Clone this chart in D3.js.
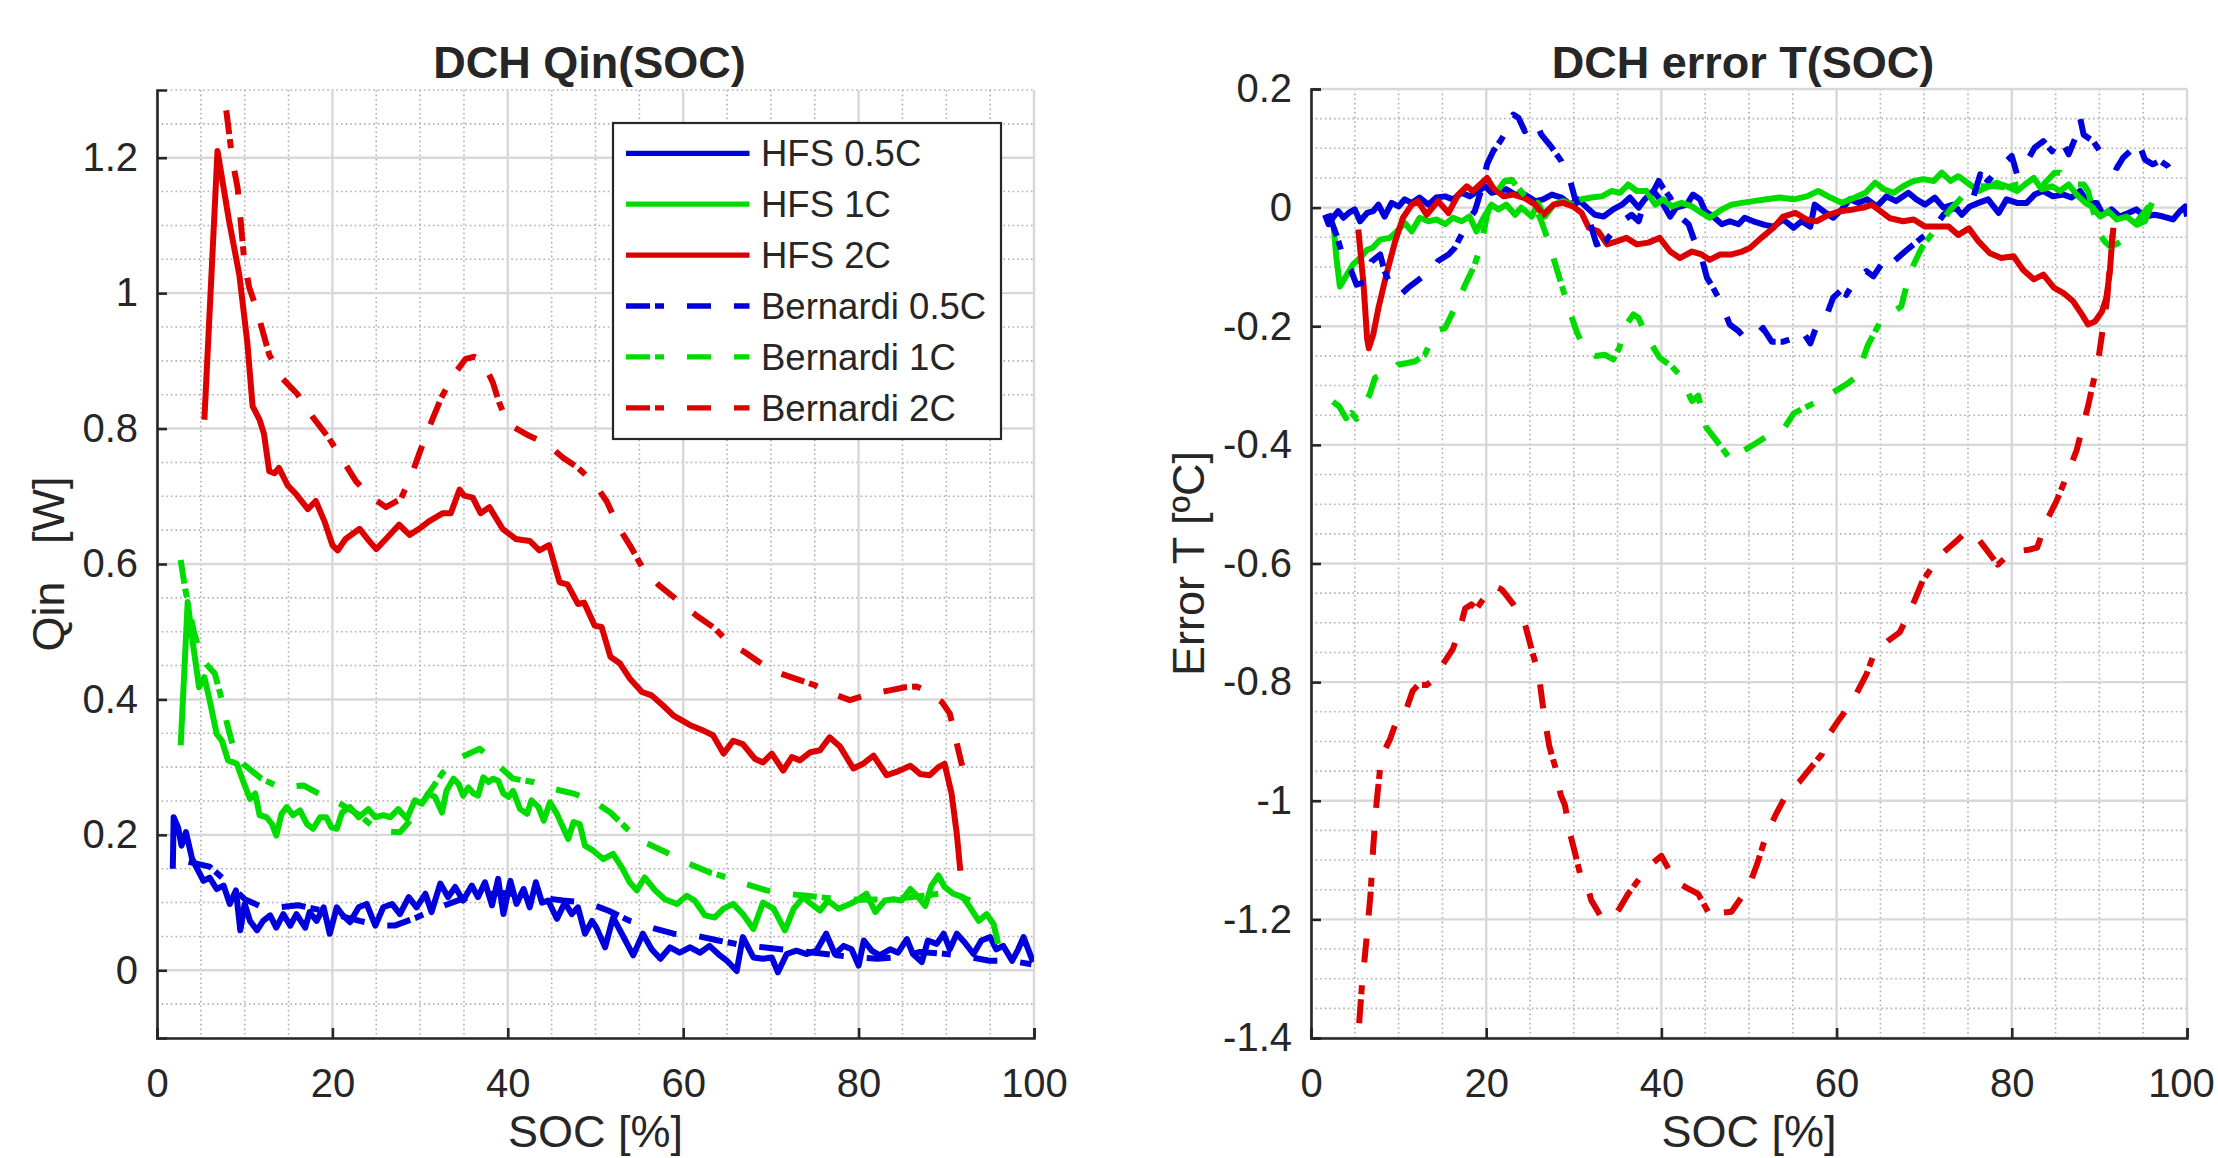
<!DOCTYPE html>
<html>
<head>
<meta charset="utf-8">
<script src="https://cdn.jsdelivr.net/npm/d3@7"></script>
<style>
body { margin: 0; background: #fff; }
svg text { font-family: "Liberation Sans", Arial, Helvetica, sans-serif; fill: #262626; }
</style>
</head>
<body>
<div id="chart"></div>
<script>
// ---- left panel: Qin [W] vs SOC [%]
var qinHfs05 = [[1.8,0.150],[1.9,0.226],[2.4,0.211],[2.8,0.184],[3.3,0.204],[4.0,0.165],[4.5,0.152],[5.3,0.132],[6.0,0.137],[6.8,0.120],[7.6,0.125],[8.3,0.098],[9.0,0.118],[9.5,0.059],[10.0,0.098],[10.6,0.073],[11.4,0.059],[12.1,0.073],[12.9,0.081],[13.6,0.063],[14.4,0.083],[15.2,0.066],[15.9,0.083],[16.9,0.063],[17.4,0.086],[18.2,0.073],[19.0,0.093],[19.7,0.054],[20.5,0.093],[21.2,0.081],[22.0,0.071],[23.0,0.093],[23.9,0.098],[24.9,0.066],[25.8,0.093],[26.8,0.098],[27.7,0.083],[28.7,0.108],[29.6,0.093],[30.6,0.113],[31.3,0.086],[32.3,0.128],[33.2,0.108],[34.0,0.123],[34.9,0.103],[35.9,0.125],[36.6,0.108],[37.4,0.130],[38.2,0.096],[38.9,0.135],[39.5,0.083],[40.3,0.132],[41.0,0.098],[41.8,0.120],[42.5,0.093],[43.2,0.130],[43.9,0.100],[44.6,0.103],[45.6,0.076],[46.5,0.100],[47.3,0.083],[48.0,0.093],[48.8,0.054],[49.6,0.073],[50.1,0.063],[51.1,0.034],[52.0,0.078],[53.0,0.054],[54.3,0.022],[55.4,0.054],[56.4,0.031],[57.4,0.017],[58.5,0.034],[59.6,0.026],[60.8,0.034],[61.9,0.026],[63.0,0.036],[64.0,0.024],[65.0,0.014],[66.1,-0.001],[66.8,0.049],[68.0,0.019],[69.1,0.017],[70.1,0.019],[70.8,-0.003],[71.8,0.024],[72.9,0.029],[74.1,0.024],[75.2,0.029],[76.3,0.054],[77.3,0.024],[78.3,0.036],[79.2,0.031],[80.0,0.007],[80.6,0.044],[81.5,0.029],[82.4,0.022],[83.6,0.031],[84.5,0.026],[85.5,0.046],[86.2,0.024],[87.2,0.012],[87.9,0.044],[88.9,0.039],[89.7,0.054],[90.4,0.031],[91.2,0.054],[92.1,0.041],[93.1,0.024],[94.0,0.044],[95.0,0.049],[95.7,0.031],[96.5,0.036],[97.5,0.014],[98.2,0.031],[98.8,0.049],[99.4,0.029],[99.9,0.012]];
var qinHfs1 = [[2.7,0.332],[3.5,0.544],[4.1,0.482],[4.8,0.418],[5.4,0.433],[6.0,0.399],[6.8,0.349],[7.4,0.339],[8.1,0.31],[9.1,0.305],[9.8,0.28],[10.6,0.253],[11.2,0.261],[11.7,0.229],[12.5,0.226],[13.1,0.216],[13.6,0.199],[14.2,0.231],[14.8,0.241],[15.5,0.229],[16.3,0.236],[17.1,0.216],[17.8,0.209],[18.6,0.226],[19.3,0.226],[19.9,0.211],[20.5,0.209],[21.1,0.233],[22.0,0.241],[23.0,0.226],[24.1,0.238],[24.9,0.226],[25.8,0.229],[26.6,0.226],[27.5,0.238],[28.5,0.224],[29.4,0.251],[30.2,0.246],[30.9,0.261],[31.7,0.256],[32.5,0.233],[33.0,0.265],[33.8,0.283],[34.4,0.275],[34.9,0.258],[35.5,0.270],[36.1,0.261],[36.6,0.258],[37.2,0.285],[37.8,0.278],[38.3,0.283],[38.9,0.280],[39.5,0.261],[40.1,0.256],[40.6,0.265],[41.4,0.238],[42.2,0.231],[42.7,0.251],[43.5,0.241],[44.1,0.221],[44.8,0.248],[45.6,0.231],[46.3,0.211],[46.9,0.194],[47.5,0.219],[48.2,0.216],[48.8,0.184],[49.7,0.177],[50.9,0.164],[52.0,0.172],[53.0,0.152],[53.9,0.130],[54.7,0.118],[55.6,0.137],[56.8,0.118],[57.9,0.105],[59.3,0.098],[60.4,0.110],[61.3,0.103],[62.5,0.081],[63.6,0.078],[64.6,0.091],[65.7,0.098],[66.8,0.083],[68.0,0.061],[69.1,0.100],[70.3,0.091],[71.6,0.059],[72.6,0.091],[73.7,0.108],[74.6,0.098],[75.6,0.088],[76.5,0.103],[77.7,0.091],[79.0,0.098],[79.8,0.103],[80.9,0.113],[81.9,0.086],[83.0,0.103],[84.0,0.105],[84.9,0.103],[85.9,0.120],[86.8,0.108],[87.6,0.095],[88.3,0.125],[89.1,0.140],[89.8,0.123],[90.8,0.113],[91.9,0.108],[92.7,0.093],[93.7,0.073],[94.6,0.083],[95.4,0.068],[95.9,0.039]];
var qinHfs2 = [[5.4,0.813],[6.9,1.21],[8.2,1.108],[9.4,1.026],[10.3,0.927],[10.9,0.833],[11.7,0.813],[12.2,0.792],[12.8,0.737],[13.4,0.734],[13.9,0.742],[14.9,0.716],[15.8,0.704],[17.2,0.681],[18.1,0.693],[19.1,0.663],[20.0,0.628],[20.6,0.62],[21.5,0.637],[23.1,0.652],[24.0,0.637],[25.0,0.622],[26.1,0.637],[27.6,0.658],[28.8,0.643],[29.9,0.652],[31.0,0.663],[32.6,0.675],[33.5,0.675],[34.5,0.71],[35.0,0.701],[36.0,0.698],[36.9,0.675],[37.9,0.684],[39.4,0.652],[40.9,0.637],[42.5,0.634],[43.6,0.62],[44.7,0.628],[45.9,0.573],[46.8,0.57],[48.0,0.541],[48.7,0.543],[49.9,0.509],[50.7,0.507],[51.7,0.463],[52.8,0.453],[53.9,0.431],[55.3,0.411],[56.4,0.406],[57.7,0.391],[58.9,0.376],[60.8,0.362],[62.3,0.354],[63.4,0.347],[64.6,0.320],[65.7,0.339],[66.8,0.334],[68.2,0.312],[69.1,0.307],[70.1,0.320],[71.4,0.295],[72.4,0.315],[73.3,0.310],[74.5,0.322],[75.6,0.325],[76.7,0.344],[77.9,0.330],[79.4,0.298],[80.5,0.305],[81.7,0.317],[83.2,0.288],[84.3,0.293],[85.9,0.302],[87.0,0.290],[88.1,0.288],[89.1,0.300],[89.8,0.305],[90.6,0.261],[91.2,0.201],[91.6,0.147]];
var qinBern05 = [[3.6,0.160],[6.0,0.153],[8.0,0.13],[10.0,0.105],[11.7,0.095],[13.8,0.093],[16.1,0.096],[18.9,0.088],[21.0,0.08],[23.1,0.073],[24.5,0.069],[26.0,0.066],[27.1,0.066],[29.6,0.078],[32.0,0.092],[34.5,0.104],[37.0,0.112],[39.5,0.114],[42.0,0.111],[44.5,0.106],[46.3,0.103],[49.0,0.100],[51.5,0.088],[53.9,0.073],[56.4,0.063],[58.9,0.054],[61.5,0.051],[64.0,0.044],[66.8,0.037],[69.1,0.034],[72.0,0.03],[75.0,0.026],[78.9,0.02],[82.1,0.017],[85.0,0.02],[87.0,0.027],[89.3,0.025],[92.5,0.02],[94.9,0.014],[97.3,0.014],[99.7,0.009]];
var qinBern1 = [[2.7,0.606],[3.2,0.564],[4.2,0.5],[5.1,0.460],[6.6,0.438],[7.4,0.399],[7.9,0.369],[8.7,0.329],[9.8,0.305],[11.9,0.283],[14.0,0.270],[16.7,0.273],[19.0,0.257],[21.0,0.245],[23.0,0.23],[25.3,0.205],[27.7,0.204],[29.5,0.23],[31.0,0.262],[32.6,0.292],[34.7,0.315],[36.8,0.327],[38.7,0.305],[40.6,0.283],[42.9,0.278],[45.2,0.268],[47.5,0.261],[49.7,0.25],[51.7,0.233],[53.6,0.209],[55.6,0.189],[58.1,0.174],[60.4,0.159],[62.9,0.145],[65.0,0.137],[67.0,0.128],[69.5,0.118],[71.8,0.113],[74.1,0.110],[77.0,0.106],[80.0,0.104],[83.0,0.105],[86.0,0.108],[88.5,0.112],[90.4,0.115],[92.7,0.103]];
var qinBern2 = [[7.9,1.27],[8.6,1.196],[9.2,1.155],[9.9,1.055],[10.5,1.009],[11.3,0.979],[12.8,0.909],[14.3,0.874],[16.0,0.851],[17.7,0.818],[19.6,0.786],[21.0,0.757],[22.7,0.722],[24.2,0.701],[26.1,0.684],[27.8,0.696],[29.1,0.734],[29.9,0.763],[31.0,0.801],[32.4,0.845],[33.7,0.877],[35.2,0.903],[36.2,0.906],[37.1,0.90],[38.3,0.868],[39.0,0.839],[40.0,0.807],[42.5,0.789],[44.4,0.778],[46.3,0.757],[48.0,0.742],[49.9,0.719],[51.3,0.692],[52.6,0.655],[53.9,0.628],[55.3,0.596],[57.2,0.569],[59.4,0.546],[61.5,0.524],[63.6,0.505],[65.1,0.485],[67.0,0.470],[68.9,0.453],[70.7,0.440],[72.7,0.431],[75.0,0.421],[77.1,0.408],[79.0,0.399],[81.3,0.408],[83.4,0.413],[85.3,0.418],[86.6,0.419],[87.7,0.413],[89.5,0.396],[90.4,0.379],[91.2,0.335],[91.8,0.302]];

// ---- right panel: Error T [ºC] vs SOC [%]
var errHfs05 = [[1.6,-0.012],[2.0,-0.028],[2.6,-0.015],[3.1,-0.006],[3.7,-0.017],[4.3,-0.009],[5.0,-0.003],[5.6,-0.023],[6.4,-0.009],[7.1,-0.006],[7.7,0.005],[8.4,-0.015],[9.2,0.008],[10.0,0.002],[10.7,0.014],[11.5,0.008],[12.4,0.017],[13.4,0.005],[14.3,0.017],[15.3,0.019],[16.2,0.014],[17.2,0.025],[18.1,0.019],[19.1,0.028],[19.9,0.036],[20.6,0.025],[21.4,0.028],[22.3,0.031],[23.3,0.022],[24.4,0.022],[25.6,0.011],[26.5,0.014],[27.5,0.022],[28.6,0.017],[29.6,0.005],[30.5,0.014],[31.5,0.0],[32.4,-0.012],[33.4,-0.015],[34.5,-0.003],[35.5,0.005],[36.4,0.017],[37.4,0.0],[38.1,0.014],[39.1,0.028],[40.0,0.011],[41.0,-0.015],[41.7,0.0],[42.9,0.005],[43.6,0.022],[44.4,0.014],[45.0,-0.006],[45.9,-0.015],[46.9,-0.028],[47.8,-0.023],[48.8,-0.028],[49.5,-0.017],[50.5,-0.023],[51.8,-0.029],[52.8,-0.032],[53.9,-0.020],[55.1,-0.034],[56.0,-0.023],[57.0,-0.032],[57.5,0.005],[58.5,-0.006],[59.6,-0.017],[60.6,-0.003],[61.5,0.014],[62.5,0.008],[63.5,0.014],[64.6,0.002],[65.7,0.019],[66.8,0.011],[68.2,0.025],[69.1,0.014],[70.1,0.005],[71.2,0.017],[72.2,0.0],[73.3,0.005],[74.3,-0.012],[75.2,0.002],[76.2,0.008],[77.3,0.014],[78.5,-0.009],[79.4,0.014],[80.6,0.008],[81.7,0.008],[82.6,0.022],[83.6,0.028],[84.7,0.019],[85.9,0.022],[86.8,0.017],[87.8,0.028],[88.7,0.008],[89.7,0.008],[90.4,-0.012],[91.4,-0.003],[92.3,-0.015],[93.3,-0.009],[94.2,-0.003],[95.2,-0.015],[96.3,-0.012],[97.3,-0.015],[98.4,-0.020],[99.2,-0.006],[99.8,0.002],[100,-0.015]];
var errHfs1 = [[2.6,-0.034],[2.9,-0.085],[3.3,-0.133],[4.1,-0.113],[4.8,-0.096],[5.6,-0.085],[6.4,-0.071],[7.0,-0.068],[7.9,-0.054],[9.0,-0.051],[9.8,-0.040],[10.7,-0.026],[11.5,-0.040],[12.4,-0.017],[13.4,-0.023],[14.3,-0.020],[15.3,-0.028],[16.2,-0.017],[17.2,-0.023],[18.1,-0.015],[18.9,-0.040],[19.7,-0.017],[20.6,0.005],[21.4,-0.003],[22.3,0.005],[23.3,-0.012],[24.0,0.0],[25.2,-0.015],[25.9,0.008],[26.7,-0.015],[27.7,0.005],[28.8,0.011],[29.8,0.005],[30.9,0.014],[32.0,0.017],[33.2,0.019],[34.3,0.028],[35.3,0.025],[36.2,0.039],[37.2,0.028],[38.3,0.028],[39.3,0.005],[40.2,0.014],[41.2,0.002],[42.3,0.008],[43.5,0.002],[44.6,-0.009],[45.5,-0.017],[46.9,-0.003],[48.0,0.005],[49.2,0.008],[50.5,0.011],[52.0,0.014],[53.5,0.017],[55.1,0.014],[56.6,0.019],[57.9,0.028],[59.3,0.017],[60.6,0.008],[62.1,0.017],[63.3,0.025],[64.4,0.042],[65.4,0.031],[66.5,0.025],[67.6,0.036],[68.8,0.045],[69.9,0.048],[71.1,0.045],[72.0,0.059],[73.0,0.045],[73.9,0.053],[75.2,0.039],[76.2,0.028],[77.1,0.034],[78.3,0.042],[79.4,0.036],[80.6,0.028],[81.5,0.039],[82.5,0.050],[83.4,0.031],[84.6,0.036],[85.5,0.028],[86.5,0.039],[87.4,0.022],[88.4,0.008],[89.1,0.002],[90.1,-0.015],[91.0,-0.006],[92.0,-0.020],[93.1,-0.015],[94.3,-0.029],[95.2,-0.023],[96.0,0.008]];
var errHfs2 = [[5.4,-0.037],[6.0,-0.13],[6.4,-0.22],[6.6,-0.237],[7.1,-0.214],[7.7,-0.169],[8.6,-0.113],[9.6,-0.057],[10.5,-0.017],[11.5,0.005],[12.2,0.011],[13.2,-0.012],[14.5,0.011],[15.7,-0.009],[16.8,0.022],[17.8,0.036],[18.5,0.028],[19.3,0.039],[20.1,0.050],[20.8,0.033],[22.0,0.019],[23.1,0.022],[24.4,0.016],[25.6,0.005],[26.5,-0.012],[27.7,0.005],[28.8,0.008],[29.9,0.002],[30.9,-0.009],[31.7,-0.034],[32.8,-0.040],[33.8,-0.062],[34.9,-0.057],[36.0,-0.051],[37.2,-0.062],[38.5,-0.059],[39.8,-0.051],[41.0,-0.074],[42.1,-0.085],[43.5,-0.074],[44.6,-0.079],[45.5,-0.088],[46.7,-0.079],[48.0,-0.079],[49.2,-0.074],[50.1,-0.068],[51.4,-0.051],[52.8,-0.034],[53.9,-0.015],[55.3,-0.009],[56.6,-0.020],[57.7,-0.023],[59.1,-0.012],[60.4,-0.006],[61.9,-0.003],[63.1,0.0],[64.0,0.005],[65.0,-0.006],[66.1,-0.018],[67.6,-0.023],[68.8,-0.020],[70.1,-0.032],[71.4,-0.032],[72.8,-0.032],[73.9,-0.046],[75.1,-0.035],[76.2,-0.057],[77.5,-0.077],[78.8,-0.085],[80.2,-0.082],[81.3,-0.105],[82.5,-0.121],[83.6,-0.113],[84.8,-0.135],[85.9,-0.144],[87.0,-0.158],[88.0,-0.180],[88.7,-0.197],[89.5,-0.192],[90.3,-0.175],[90.8,-0.152],[91.2,-0.107],[91.5,-0.045]];
var errBern05 = [[2.0,-0.01],[3.0,-0.05],[3.9,-0.096],[4.6,-0.107],[5.2,-0.13],[6.4,-0.124],[6.9,-0.091],[7.9,-0.079],[8.4,-0.107],[9.2,-0.135],[10.2,-0.147],[11.1,-0.135],[12.6,-0.118],[13.8,-0.107],[14.5,-0.090],[15.7,-0.079],[16.4,-0.068],[17.2,-0.045],[18.1,-0.017],[18.7,-0.006],[19.5,0.033],[20.1,0.073],[20.8,0.095],[21.6,0.112],[22.3,0.129],[23.1,0.157],[23.7,0.151],[24.4,0.129],[25.6,0.146],[26.3,0.123],[27.5,0.101],[28.6,0.078],[29.6,0.045],[30.1,0.017],[30.9,-0.006],[31.9,-0.028],[32.6,-0.062],[33.6,-0.057],[34.5,-0.040],[35.5,-0.023],[36.6,-0.012],[37.4,-0.023],[38.1,0.011],[39.1,0.028],[39.7,0.045],[40.2,0.033],[41.0,0.017],[41.9,-0.012],[43.1,-0.028],[43.8,-0.057],[44.6,-0.085],[45.2,-0.118],[45.9,-0.135],[46.9,-0.163],[47.8,-0.197],[48.8,-0.208],[49.5,-0.220],[50.5,-0.220],[51.6,-0.203],[52.6,-0.226],[53.9,-0.226],[55.1,-0.220],[56.0,-0.206],[57.0,-0.229],[57.9,-0.192],[58.9,-0.180],[59.6,-0.152],[60.4,-0.141],[61.1,-0.147],[62.1,-0.124],[63.4,-0.107],[64.2,-0.116],[65.1,-0.096],[65.7,-0.107],[66.5,-0.091],[67.8,-0.074],[68.8,-0.062],[69.7,-0.051],[70.7,-0.040],[71.4,-0.029],[72.2,-0.012],[73.3,-0.001],[74.5,-0.006],[75.6,0.017],[76.4,0.056],[77.3,0.045],[78.3,0.062],[79.4,0.079],[80.0,0.087],[80.6,0.056],[81.3,0.067],[82.6,0.101],[83.6,0.112],[84.6,0.095],[85.5,0.118],[86.5,0.090],[87.4,0.123],[87.8,0.151],[88.2,0.123],[89.3,0.112],[90.3,0.090],[91.2,0.073],[92.0,0.067],[92.7,0.084],[93.5,0.095],[94.4,0.112],[95.2,0.081],[96.1,0.073],[96.9,0.079],[97.8,0.070],[98.8,0.048],[99.4,0.05]];
var errBern1 = [[2.5,-0.327],[3.2,-0.335],[4.0,-0.355],[4.6,-0.346],[5.2,-0.356],[6.7,-0.315],[7.3,-0.287],[8.2,-0.28],[9.2,-0.276],[9.9,-0.265],[11.0,-0.262],[11.9,-0.259],[13.0,-0.248],[14.2,-0.208],[15.3,-0.203],[16.8,-0.158],[17.6,-0.130],[18.7,-0.096],[19.5,-0.057],[20.1,-0.012],[21.0,0.022],[22.1,0.045],[22.9,0.047],[23.5,0.036],[24.6,0.017],[25.8,-0.006],[26.3,-0.023],[27.1,-0.057],[27.9,-0.096],[28.6,-0.130],[29.4,-0.169],[30.3,-0.208],[31.3,-0.242],[32.5,-0.25],[33.5,-0.248],[34.5,-0.256],[35.2,-0.236],[36.0,-0.197],[36.8,-0.180],[37.4,-0.186],[38.3,-0.217],[39.1,-0.236],[39.8,-0.253],[41.2,-0.268],[42.1,-0.282],[43.5,-0.326],[44.2,-0.317],[45.1,-0.370],[46.4,-0.395],[48.0,-0.427],[48.7,-0.416],[50.6,-0.399],[52.2,-0.384],[54.1,-0.370],[55.1,-0.347],[57.5,-0.329],[59.1,-0.316],[61.1,-0.298],[62.1,-0.287],[62.9,-0.259],[63.6,-0.231],[65.0,-0.192],[66.1,-0.180],[67.4,-0.166],[68.0,-0.130],[68.8,-0.096],[69.7,-0.068],[71.1,-0.040],[72.0,-0.023],[73.0,-0.003],[73.9,0.011],[74.9,0.028],[76.4,0.036],[78.1,0.036],[79.4,0.034],[80.6,0.039],[82.1,0.039],[83.6,0.039],[84.9,0.059],[85.5,0.059],[86.1,0.045],[87.0,0.039],[88.2,0.039],[88.7,0.028],[89.5,-0.017],[90.1,-0.046],[90.6,-0.057],[91.2,-0.065],[91.9,-0.062],[93.1,-0.051],[93.7,-0.034],[95.8,0.005]];
var errBern2 = [[5.5,-1.375],[5.8,-1.314],[6.3,-1.239],[6.8,-1.157],[7.1,-1.079],[7.5,-1.001],[7.9,-0.944],[8.4,-0.915],[9.0,-0.897],[9.6,-0.872],[10.6,-0.858],[11.6,-0.815],[12.2,-0.805],[13.2,-0.805],[13.8,-0.798],[15.4,-0.762],[16.2,-0.744],[17.0,-0.709],[17.6,-0.676],[18.3,-0.669],[18.9,-0.676],[20.8,-0.637],[21.8,-0.644],[23.1,-0.669],[24.4,-0.701],[25.3,-0.751],[26.0,-0.787],[26.6,-0.855],[27.2,-0.908],[27.9,-0.944],[28.5,-0.99],[29.0,-1.008],[29.5,-1.051],[30.1,-1.086],[30.7,-1.122],[31.4,-1.136],[32.0,-1.168],[33.0,-1.193],[34.3,-1.200],[35.2,-1.182],[36.2,-1.157],[37.8,-1.125],[39.1,-1.104],[40.0,-1.093],[41.6,-1.136],[42.9,-1.147],[44.2,-1.157],[45.8,-1.200],[46.7,-1.189],[48.0,-1.187],[49.9,-1.147],[50.9,-1.108],[51.9,-1.061],[53.1,-1.022],[54.4,-0.986],[55.7,-0.969],[56.9,-0.947],[58.3,-0.922],[59.2,-0.887],[60.2,-0.865],[61.8,-0.833],[63.4,-0.787],[64.3,-0.751],[65.9,-0.730],[67.2,-0.716],[68.2,-0.687],[68.8,-0.666],[69.8,-0.630],[71.1,-0.602],[72.3,-0.580],[73.9,-0.559],[74.9,-0.545],[76.2,-0.559],[78.4,-0.602],[80.0,-0.580],[81.9,-0.577],[82.9,-0.573],[83.9,-0.530],[85.1,-0.495],[86.4,-0.448],[87.4,-0.409],[88.7,-0.335],[89.9,-0.254],[90.9,-0.152],[91.2,-0.096],[91.6,-0.034]];

var seriesNames = ["HFS 0.5C", "HFS 1C", "HFS 2C", "Bernardi 0.5C", "Bernardi 1C", "Bernardi 2C"];
var xTicks = [0, 20, 40, 60, 80, 100];
var yTicksLeft = [0, 0.2, 0.4, 0.6, 0.8, 1, 1.2];
var yTicksRight = [0.2, 0, -0.2, -0.4, -0.6, -0.8, -1, -1.2, -1.4];

var w = 2218;
var h = 1158;
var blue = "#0000dc", green = "#00dc00", red = "#dc0000";
var dashPattern = "24,5,9,23,24,23";
var lineColors = [blue, green, red, blue, green, red];

var svg = d3.select("#chart")
            .append("svg")
            .attr("width", w)
            .attr("height", h);

svg.append("rect").attr("width", w).attr("height", h).attr("fill", "#fff");

function isMajor(v) {
  return Math.abs(v / 0.2 - Math.round(v / 0.2)) < 1e-6;
}

function drawPanel(p) {
  var x = d3.scaleLinear().domain([0, 100]).range([p.left, p.right]);
  var y = d3.scaleLinear().domain(p.yDomain).range([p.bottom, p.top]);
  var g = svg.append("g");

  var xMinor = d3.range(0, 101, 5).filter(function(v) { return v % 20 !== 0; });
  var yMinor = d3.range(Math.round(p.yDomain[0] * 20), Math.round(p.yDomain[1] * 20) + 1)
                 .map(function(k) { return k / 20; })
                 .filter(function(v) { return !isMajor(v); });

  // minor grid (dotted)
  g.selectAll(".xminor").data(xMinor).enter().append("line")
    .attr("x1", function(d) { return x(d); }).attr("x2", function(d) { return x(d); })
    .attr("y1", p.top).attr("y2", p.bottom)
    .attr("stroke", "#b0b0b0").attr("stroke-width", 1.6).attr("stroke-dasharray", "1.6,3");
  g.selectAll(".yminor").data(yMinor).enter().append("line")
    .attr("x1", p.left).attr("x2", p.right)
    .attr("y1", function(d) { return y(d); }).attr("y2", function(d) { return y(d); })
    .attr("stroke", "#b0b0b0").attr("stroke-width", 1.6).attr("stroke-dasharray", "1.6,3");

  // major grid
  g.selectAll(".xmajor").data(xTicks).enter().append("line")
    .attr("x1", function(d) { return x(d); }).attr("x2", function(d) { return x(d); })
    .attr("y1", p.top).attr("y2", p.bottom)
    .attr("stroke", "#d8d8d8").attr("stroke-width", 2.4);
  g.selectAll(".ymajor").data(p.yTicks).enter().append("line")
    .attr("x1", p.left).attr("x2", p.right)
    .attr("y1", function(d) { return y(d); }).attr("y2", function(d) { return y(d); })
    .attr("stroke", "#d8d8d8").attr("stroke-width", 2.4);

  // axes, ticks pointing inward
  var xAxis = g.append("g")
    .attr("transform", "translate(0," + p.bottom + ")")
    .call(d3.axisBottom(x).tickValues(xTicks).tickSize(-10).tickPadding(30)
            .tickFormat(function(d) { return String(d); }));
  var yAxis = g.append("g")
    .attr("transform", "translate(" + p.left + ",0)")
    .call(d3.axisLeft(y).tickValues(p.yTicks).tickSize(-10).tickPadding(19)
            .tickFormat(function(d) { return String(+d.toFixed(1)); }));
  [xAxis, yAxis].forEach(function(a) {
    a.attr("font-size", 40).attr("font-family", null);
    a.selectAll("path").attr("stroke", "#262626").attr("stroke-width", 2.6);
    a.selectAll("line").attr("stroke", "#262626").attr("stroke-width", 2.6);
    a.selectAll("text").attr("fill", "#262626");
  });
  xAxis.selectAll("text").attr("dy", "0.72em");
  if (p.lastTickShift) {
    xAxis.selectAll("text").filter(function(d) { return d === 100; }).attr("dx", p.lastTickShift);
  }

  // data lines
  var clipId = "clip" + p.id;
  svg.append("clipPath").attr("id", clipId).append("rect")
    .attr("x", p.left).attr("y", p.top)
    .attr("width", p.right - p.left).attr("height", p.bottom - p.top);

  var line = d3.line()
    .x(function(d) { return x(d[0]); })
    .y(function(d) { return y(d[1]); });

  g.append("g").attr("clip-path", "url(#" + clipId + ")")
    .selectAll("path")
    .data(p.series)
    .enter()
    .append("path")
    .attr("d", function(d) { return line(d); })
    .attr("fill", "none")
    .attr("stroke", function(d, i) { return lineColors[i]; })
    .attr("stroke-width", 6)
    .attr("stroke-linejoin", "round")
    .attr("stroke-dasharray", function(d, i) { return i > 2 ? dashPattern : null; });

  // title and labels
  svg.append("text")
    .attr("x", (p.left + p.right) / 2 - 6).attr("y", 78)
    .attr("text-anchor", "middle")
    .attr("font-size", 45).attr("font-weight", "bold")
    .text(p.title);
  svg.append("text")
    .attr("x", (p.left + p.right) / 2).attr("y", 1147)
    .attr("text-anchor", "middle")
    .attr("font-size", 45)
    .text("SOC [%]");
  svg.append("text")
    .attr("transform", "translate(" + p.yLabelX + "," + ((p.top + p.bottom) / 2) + ") rotate(-90)")
    .attr("text-anchor", "middle")
    .attr("font-size", 45)
    .attr("xml:space", "preserve")
    .style("white-space", "pre")
    .text(p.yLabel);
}

drawPanel({
  id: "L", left: 157, right: 1034, top: 90, bottom: 1038,
  yDomain: [-0.1, 1.3], yTicks: yTicksLeft,
  title: "DCH Qin(SOC)", yLabel: "Qin   [W]", yLabelX: 64,
  series: [qinHfs05, qinHfs1, qinHfs2, qinBern05, qinBern1, qinBern2]
});

drawPanel({
  id: "R", left: 1311, right: 2187, top: 89, bottom: 1038,
  yDomain: [-1.4, 0.2], yTicks: yTicksRight,
  title: "DCH error T(SOC)", yLabel: "Error T [ºC]", yLabelX: 1204,
  lastTickShift: -6,
  series: [errHfs05, errHfs1, errHfs2, errBern05, errBern1, errBern2]
});

// legend on the left panel
var legend = svg.append("g");
legend.append("rect")
  .attr("x", 613).attr("y", 123).attr("width", 388).attr("height", 316)
  .attr("fill", "#fff").attr("stroke", "#262626").attr("stroke-width", 2.2);

var items = legend.selectAll(".item")
  .data(seriesNames)
  .enter()
  .append("g")
  .attr("transform", function(d, i) { return "translate(0," + (153.3 + i * 50.9) + ")"; });

items.append("line")
  .attr("x1", 626).attr("x2", 749.5).attr("y1", 0).attr("y2", 0)
  .attr("stroke", function(d, i) { return lineColors[i]; })
  .attr("stroke-width", 5.3)
  .attr("stroke-dasharray", function(d, i) { return i > 2 ? dashPattern : null; });

items.append("text")
  .attr("x", 761).attr("y", 13)
  .attr("font-size", 36.5)
  .attr("fill", "#000")
  .text(function(d) { return d; });
</script>
</body>
</html>
